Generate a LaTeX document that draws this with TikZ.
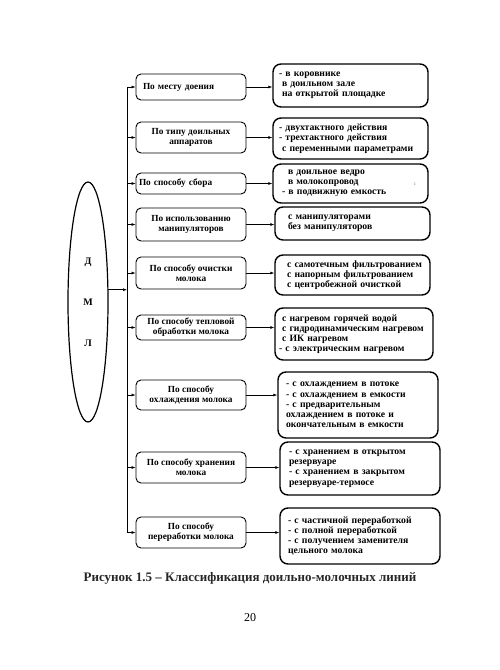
\documentclass[tikz,border=0pt]{standalone}
\usepackage{fontspec}
\setmainfont{Liberation Serif}
\usetikzlibrary{arrows.meta, shapes.geometric, positioning}

\begin{document}
\begin{tikzpicture}[
  x=1pt, y=-1pt,
  catbox/.style={draw, rounded corners=5pt, line width=0.9pt, minimum width=110pt,
    inner sep=2pt, align=center, font=\fontsize{9.3}{10}\selectfont\bfseries},
  varbox/.style={draw, rounded corners=8pt, line width=1.4pt, inner xsep=6pt, inner ysep=2pt,
    align=left, font=\fontsize{9.7}{10.2}\selectfont\bfseries},
  arrow/.style={-{Latex[length=4pt,width=3pt]}, line width=0.6pt},
  letter/.style={font=\fontsize{10}{41}\selectfont\bfseries, align=center}
]
\useasboundingbox (0,0) rectangle (500,670);

% Main ellipse
\node[draw, ellipse, line width=1.2pt, minimum width=40pt, minimum height=240pt,
  letter] (dml) at (88,302) {Д\\М\\Л};

% Trunk
\coordinate (trunktop) at (127,87);
\coordinate (trunkbot) at (127,532.5);
\draw[line width=0.7pt] (trunktop) -- (trunkbot);
\draw[arrow] (dml.31) -- (dml.31 -| trunktop);

% Classification criteria
\node[catbox, minimum height=26pt, align=left, text width=100pt] (l1) at (191,87) {\hspace*{2pt}По месту доения};
\node[catbox, minimum height=31pt] (l2) at (191,137.5) {По типу доильных\\аппаратов};
\node[catbox, minimum height=21pt, align=left, text width=104pt] (l3) at (191,183.5) {По способу сбора};
\node[catbox, minimum height=33pt] (l4) at (191,224.5) {По использованию\\манипуляторов};
\node[catbox, minimum height=32pt] (l5) at (191,273) {По способу очистки\\молока};
\node[catbox, minimum height=25pt] (l6) at (191,327.5) {По способу тепловой\\обработки молока};
\node[catbox, minimum height=30pt] (l7) at (191,395) {По способу\\охлаждения молока};
\node[catbox, minimum height=31pt] (l8) at (191,467.5) {По способу хранения\\молока};
\node[catbox, minimum height=31pt] (l9) at (191,532.5) {По способу\\переработки молока};

% Variants
\node[varbox, text width=143pt, minimum height=43pt] (r1) at (350.5,85.5)
  {- в коровнике\\\hspace*{3pt}в доильном зале\\\hspace*{3pt}на открытой площадке};
\node[varbox, text width=143pt, minimum height=41pt] (r2) at (350.5,138.5)
  {- двухтактного действия\\- трехтактного действия\\\hspace*{3pt}с переменными параметрами};
\node[varbox, text width=143pt, minimum height=39pt] (r3) at (350.5,183.5)
  {\hspace*{9pt}в доильное ведро\\\hspace*{9pt}в молокопровод\\\hspace*{3pt}- в подвижную емкость};
\node[varbox, text width=143pt, minimum height=33pt] (r4) at (352.5,223.5)
  {\hspace*{7pt}с манипуляторами\\\hspace*{7pt}без манипуляторов};
\node[varbox, text width=143pt, minimum height=40pt] (r5) at (352.5,275)
  {\hspace*{6pt}с самотечным фильтрованием\\\hspace*{6pt}с напорным фильтрованием\\\hspace*{6pt}с центробежной очисткой};
\node[varbox, inner xsep=4pt, text width=150pt, minimum height=52pt] (r6) at (354,334)
  {\hspace*{3pt}с нагревом горячей водой\\\hspace*{3pt}с гидродинамическим нагревом\\\hspace*{3pt}с ИК нагревом\\- с электрическим нагревом};
\node[varbox, text width=148pt, minimum height=66pt] (r7) at (358,405)
  {\hspace*{2pt}- с охлаждением в потоке\\\hspace*{2pt}- с охлаждением в емкости\\\hspace*{2pt}- с предварительным\\\hspace*{2pt}охлаждением в потоке и\\\hspace*{2pt}окончательным в емкости};
\node[varbox, text width=148pt, minimum height=53pt] (r8) at (360,468.5)
  {\hspace*{3pt}- с хранением в открытом\\\hspace*{3pt}резервуаре\\\hspace*{3pt}- с хранением в закрытом\\\hspace*{3pt}резервуаре-термосе};
\node[varbox, text width=148pt, minimum height=56pt] (r9) at (360,536)
  {\hspace*{2pt}- с частичной переработкой\\\hspace*{2pt}- с полной переработкой\\\hspace*{2pt}- с получением заменителя\\\hspace*{2pt}цельного молока};
\node[font=\tiny, text=gray] (speck) at (415,184) {с};

% Arrows
\foreach \i in {1,...,9} {
  \draw[arrow] (l\i.west -| trunktop) -- (l\i.west);
  \draw[arrow] (l\i.east) -- (l\i.east -| r\i.west);
}

% Caption
\node[font=\fontsize{13}{15}\selectfont\bfseries, text=black!85] (caption) at (250,578)
  {Рисунок 1.5 – Классификация доильно-молочных линий};
\node[font=\fontsize{12}{14}\selectfont] (pagenum) at (250,618) {20};

\end{tikzpicture}
\end{document}
